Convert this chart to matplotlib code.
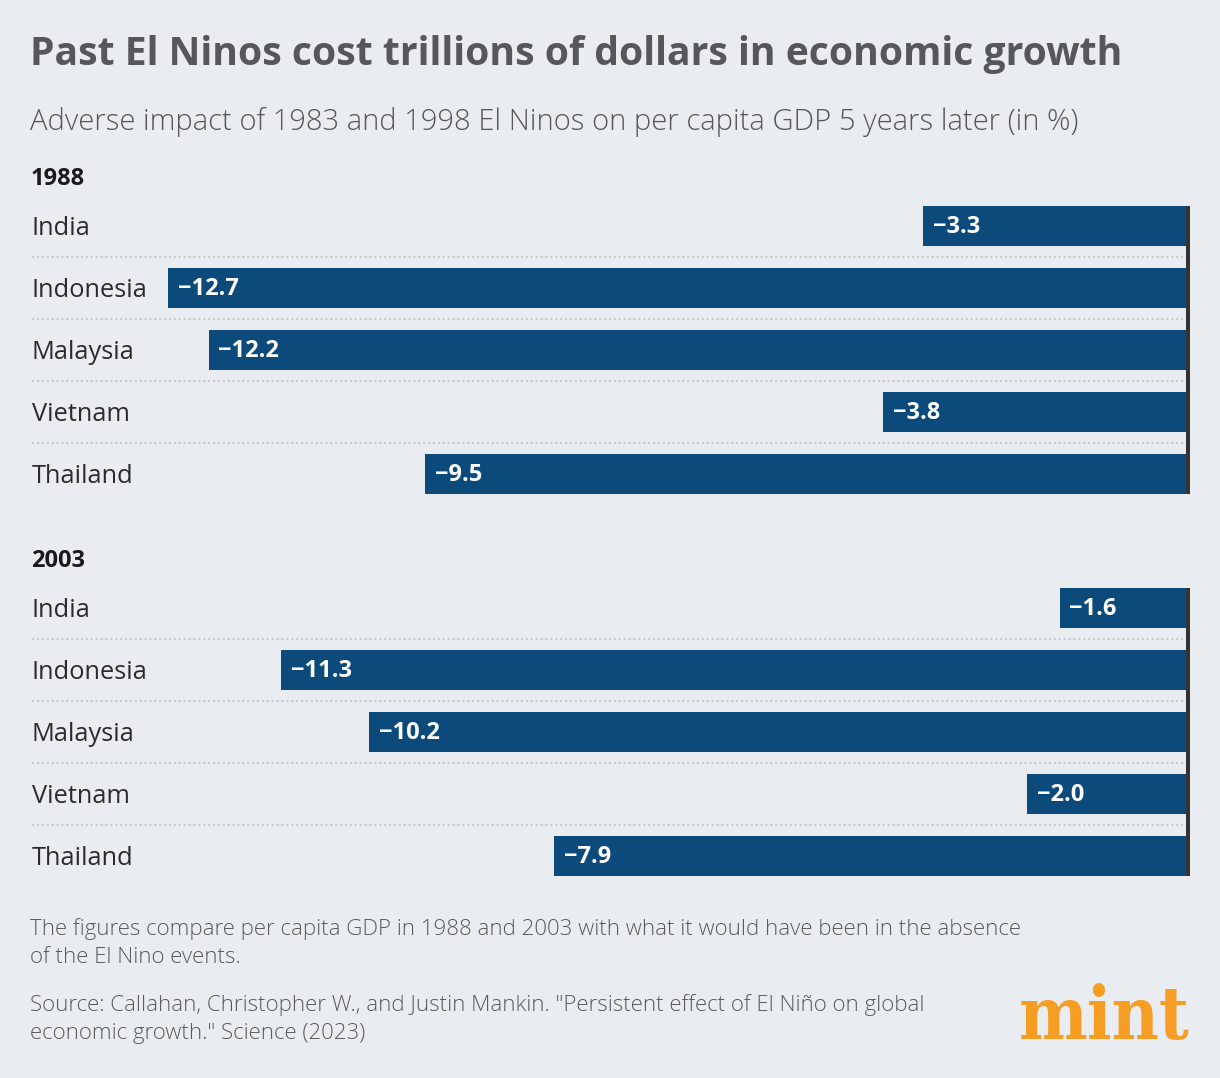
import matplotlib.pyplot as plt

countries = ['India', 'Indonesia', 'Malaysia', 'Vietnam', 'Thailand']
years = ['1988', '2003']
impact_1988 = [-3.3, -12.7, -12.2, -3.8, -9.5]
impact_2003 = [-1.6, -11.3, -10.2, -2.0, -7.9]

bg = '#e9ecf1'
bar_col = '#0b4a7a'
font = 'Open Sans'

W, H = 1220, 1078
fig = plt.figure(figsize=(W / 100, H / 100), dpi=100, facecolor=bg)


def px_axes(left, top, right, bottom):
    return fig.add_axes([left / W, 1 - bottom / H, (right - left) / W, (bottom - top) / H])


def draw_panel(ax, values):
    ax.set_facecolor(bg)
    for s in ax.spines.values():
        s.set_visible(False)
    ax.set_xticks([])
    ax.set_yticks([])
    ax.set_xlim(-14.4, 0)
    ax.set_ylim(len(values) - 0.5, -0.5)
    for y in [0.5, 1.5, 2.5, 3.5]:
        ax.axhline(y, color='#c9cdd3', lw=1.6, ls=(0, (1, 1.2)), zorder=1)
    ax.barh(range(len(values)), values, height=0.63, color=bar_col, zorder=2)
    for i, (c, v) in enumerate(zip(countries, values)):
        ax.annotate(c, (0, i), xycoords=ax.get_yaxis_transform(), xytext=(0, -1.5),
                    textcoords='offset points', ha='left', va='center',
                    fontsize=18.3, color='#2b2b2b', family=font)
        ax.annotate('\u2212%.1f' % abs(v), (v, i), xytext=(7, -1), textcoords='offset points',
                    ha='left', va='center', fontsize=17, fontweight='bold', color='white',
                    family=font, zorder=3)
    ax.vlines(0, -0.315, len(values) - 1 + 0.315, color='#333333', lw=2.9, zorder=4,
              clip_on=False)


ax1 = px_axes(32, 195, 1188, 505)
draw_panel(ax1, impact_1988)
ax2 = px_axes(32, 577, 1188, 887)
draw_panel(ax2, impact_2003)

fig.text(30 / W, 1 - 55 / H, 'Past El Ninos cost trillions of dollars in economic growth',
         fontsize=28.2, fontweight='bold', color='#555759', family=font, va='center')
fig.text(30 / W, 1 - 122 / H, 'Adverse impact of 1983 and 1998 El Ninos on per capita GDP 5 years later (in %)',
         fontsize=21, color='#555759', family=font, va='center', fontweight='light')
fig.text(31 / W, 1 - 179 / H, years[0], fontsize=17, fontweight='bold', color='#1a1a1a',
         family=font, va='center')
fig.text(31 / W, 1 - 561 / H, years[1], fontsize=17, fontweight='bold', color='#1a1a1a',
         family=font, va='center')

foot = ('The figures compare per capita GDP in 1988 and 2003 with what it would have been in the absence\n'
        'of the El Nino events.')
src = ('Source: Callahan, Christopher W., and Justin Mankin. "Persistent effect of El Ni\u00f1o on global\n'
       'economic growth." Science (2023)')
fig.text(30 / W, 1 - 918 / H, foot, fontsize=16, color='#595b5e', family=font, va='top',
         linespacing=1.45, fontweight='light')
fig.text(30 / W, 1 - 994 / H, src, fontsize=16, color='#595b5e', family=font, va='top',
         linespacing=1.45, fontweight='light')

fig.text(1190 / W, 1 - 1039 / H, 'mint', fontsize=52, fontweight='bold', color='#f59e23',
         family='DejaVu Serif', fontstretch='condensed', ha='right', va='baseline')

fig.savefig('out.png', dpi=100, facecolor=bg)
